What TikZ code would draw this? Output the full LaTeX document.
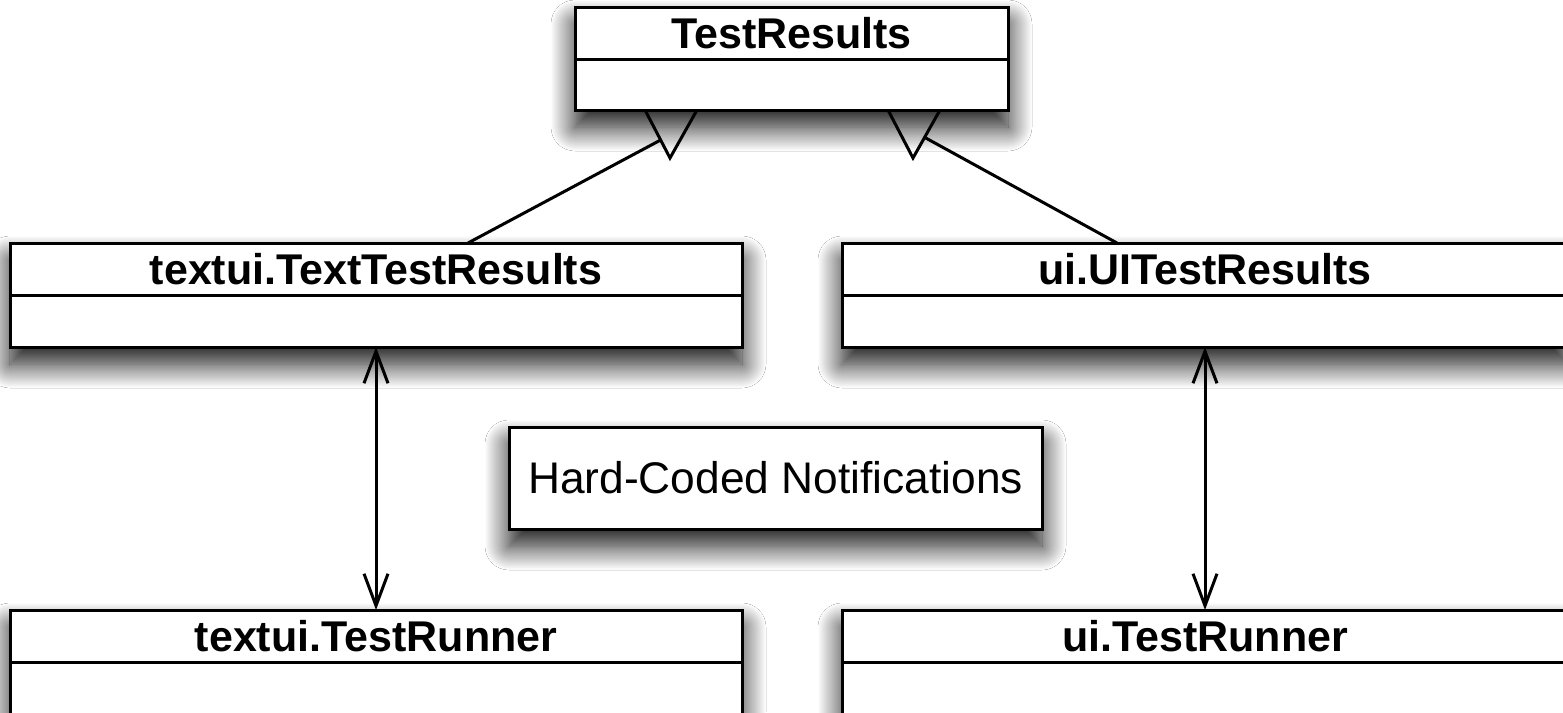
\documentclass[tikz,border=0pt]{standalone}
\usepackage{fontspec}
\setmainfont{Liberation Sans}
\usetikzlibrary{shadows.blur,arrows.meta,calc}
\begin{document}
\begin{tikzpicture}[x=1pt,y=-1pt,
  classbox/.style={draw=black, line width=3pt, fill=white, rectangle,
    inner sep=0pt, outer sep=0pt, anchor=north west,
    blur shadow={shadow xshift=0pt, shadow yshift=-17pt,
                 shadow blur radius=24pt, shadow opacity=95,
                 shadow blur steps=24}},
  classname/.style={font=\bfseries\fontsize{43}{48}\selectfont, inner sep=0pt},
  notetext/.style={font=\fontsize{44.3}{50}\selectfont, inner sep=0pt, anchor=west},
  link/.style={line width=3pt, line join=miter},
  assoc/.style={line width=3pt,
    {Straight Barb[length=32pt,width=24pt]}-{Straight Barb[length=32pt,width=24pt]}},
]
% canvas
\fill[white] (0,0) rectangle (1563,712);
\useasboundingbox (0,0) rectangle (1563,712);

% class boxes
\node[classbox, minimum width=433pt, minimum height=103pt] (tr)  at (575,7)   {};
\node[classbox, minimum width=732pt, minimum height=104pt] (ttr) at (10,243)  {};
\node[classbox, minimum width=726pt, minimum height=104pt] (utr) at (842,243) {};
\node[classbox, minimum width=732pt, minimum height=160pt] (trn) at (10,610)  {};
\node[classbox, minimum width=726pt, minimum height=160pt] (urn) at (842,610) {};

% note box
\node[classbox, minimum width=533pt, minimum height=102pt] (hc) at (509,427) {};
\node[notetext] (hctext) at ($(hc.west)+(19,0)$) {Hard-Coded Notifications};

% compartment dividers and class names
\foreach \c/\name in {tr/TestResults, ttr/textui.TextTestResults,
                      utr/ui.UITestResults, trn/textui.TestRunner,
                      urn/ui.TestRunner}{
  \draw[link] ($(\c.north west)+(0,52)$) -- ($(\c.north east)+(0,52)$);
  \node[classname] (\c-name) at ($(\c.north)+(0,26.5)$) {\name};
}

% generalization triangles under TestResults
\coordinate (gl-a) at ($(tr.south west)+(70,0)$);
\coordinate (gl-b) at ($(tr.south west)+(122,0)$);
\coordinate (gl-tip) at ($(tr.south west)+(95,48)$);
\coordinate (gr-a) at ($(tr.south west)+(313,0)$);
\coordinate (gr-b) at ($(tr.south west)+(365,0)$);
\coordinate (gr-tip) at ($(tr.south west)+(338,48)$);
\draw[link] (gl-a) -- (gl-tip) -- (gl-b);
\draw[link] (gr-a) -- (gr-tip) -- (gr-b);

% generalization lines
\coordinate (gl-side) at ($(gl-a)!0.625!(gl-tip)$);
\coordinate (gr-side) at ($(gr-b)!0.57!(gr-tip)$);
\coordinate (ttr-top) at ($(ttr.north west)+(458,0)$);
\coordinate (utr-top) at ($(utr.north west)+(275,0)$);
\draw[link] (ttr-top) -- (gl-side);
\draw[link] (utr-top) -- (gr-side);

% hard-coded associations
\draw[assoc] (ttr.south) -- (trn.north);
\draw[assoc] (utr.south) -- (urn.north);
\end{tikzpicture}
\end{document}
